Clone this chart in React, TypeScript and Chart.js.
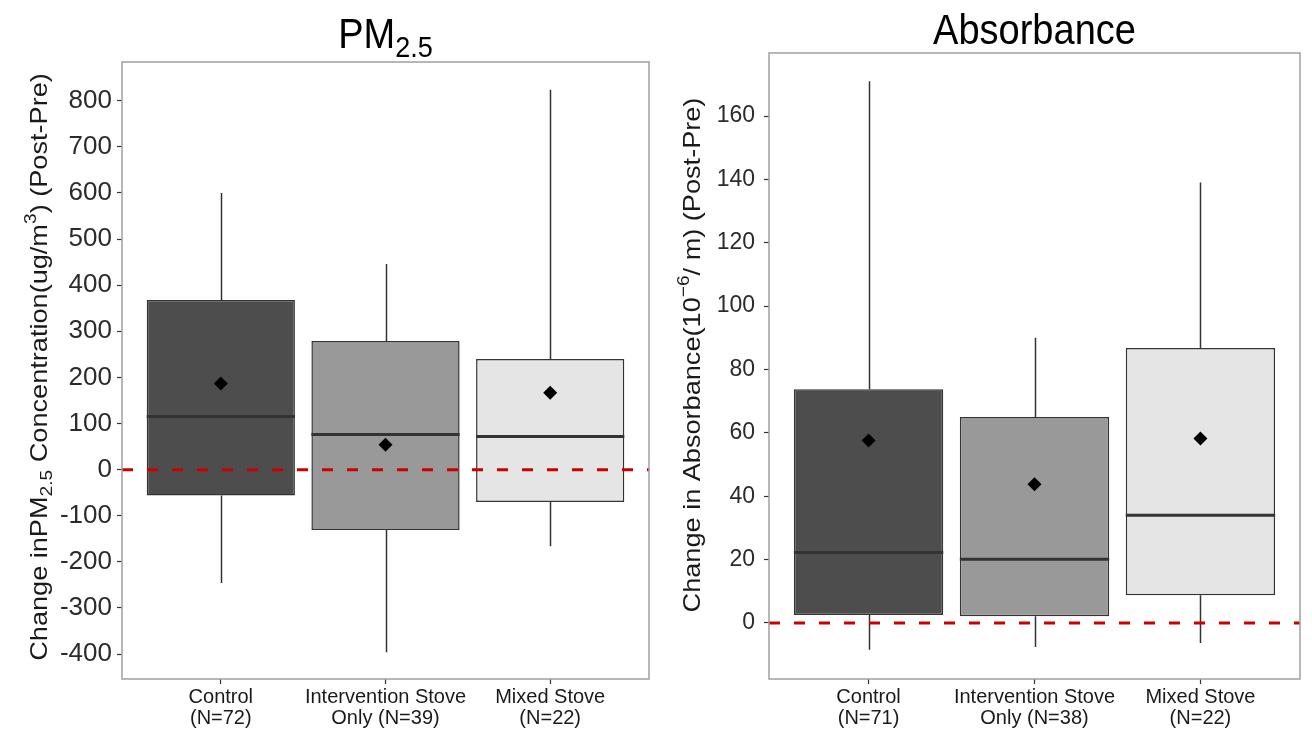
import React, { useEffect, useRef } from "react";
import { Chart, registerables } from "chart.js";

Chart.register(...registerables);

const FONT = "'Liberation Sans', Arial, sans-serif";

// ---------- data ----------
const pmCategories = [["Control", "(N=72)"], ["Intervention Stove", "Only (N=39)"], ["Mixed Stove", "(N=22)"]];
const absCategories = [["Control", "(N=71)"], ["Intervention Stove", "Only (N=38)"], ["Mixed Stove", "(N=22)"]];

const pmMin = [-246, -396, -166];
const pmQ1 = [-56, -131, -70];
const pmMedian = [115, 76, 72];
const pmQ3 = [368, 279, 240];
const pmMax = [600, 446, 824];
const pmMean = [187, 54, 167];

const absMin = [-8.5, -7.6, -6.3];
const absQ1 = [2.5, 2.1, 8.7];
const absMedian = [22.2, 20.1, 34.0];
const absQ3 = [73.8, 65.0, 86.8];
const absMax = [171, 90, 139];
const absMean = [57.6, 43.8, 58.2];

const pmTicks = [-400, -300, -200, -100, 0, 100, 200, 300, 400, 500, 600, 700, 800];
const absTicks = [0, 20, 40, 60, 80, 100, 120, 140, 160];

const boxColors = ["#4d4d4d", "#999999", "#e5e5e5"];

type Seg = { text: string; size: number; dy: number };

const pmTitle: Seg[] = [
  { text: "PM", size: 38, dy: 0 },
  { text: "2.5", size: 27, dy: 8 },
];
const absTitle: Seg[] = [{ text: "Absorbance", size: 38, dy: 0 }];

const pmYTitle: Seg[] = [
  { text: "Change inPM", size: 24, dy: 0 },
  { text: "2.5", size: 17, dy: 5 },
  { text: " Concentration(ug/m", size: 24, dy: 0 },
  { text: "3", size: 17, dy: -11 },
  { text: ") (Post-Pre)", size: 24, dy: 0 },
];
const absYTitle: Seg[] = [
  { text: "Change in Absorbance(10", size: 24, dy: 0 },
  { text: "\u22126", size: 17, dy: -11 },
  { text: "/ m) (Post-Pre)", size: 24, dy: 0 },
];

function drawRich(
  ctx: CanvasRenderingContext2D,
  segs: Seg[],
  cx: number,
  cy: number,
  rotate: boolean,
  stretchAlong: number,
  stretchAcross: number,
  color: string
) {
  ctx.save();
  ctx.translate(cx, cy);
  if (rotate) ctx.rotate(-Math.PI / 2);
  ctx.scale(stretchAlong, stretchAcross);
  ctx.fillStyle = color;
  ctx.textAlign = "left";
  ctx.textBaseline = "alphabetic";
  const widths = segs.map((s) => {
    ctx.font = `${s.size}px ${FONT}`;
    return ctx.measureText(s.text).width;
  });
  const total = widths.reduce((a, b) => a + b, 0);
  let x = -total / 2;
  segs.forEach((s, i) => {
    ctx.font = `${s.size}px ${FONT}`;
    ctx.fillText(s.text, x, s.dy);
    x += widths[i];
  });
  ctx.restore();
}

interface PanelSpec {
  labels: string[][];
  mins: number[];
  q1: number[];
  med: number[];
  q3: number[];
  maxs: number[];
  means: number[];
  ticks: number[];
  yMin: number;
  yMax: number;
  yAxisWidth: number;
  padTop: number;
  padRight: number;
  tickFont: number;
  tickPad: number;
  title: Seg[];
  titleBaseline: number;
  yTitle: Seg[];
  yTitleX: number;
  yTitleY: number;
  yTitleStretch: number;
}

function buildChart(canvas: HTMLCanvasElement, p: PanelSpec) {
  const extras = {
    id: "boxExtras",
    beforeDatasetsDraw(chart: any) {
      const { ctx, scales } = chart;
      const x = scales.x;
      const y = scales.y;
      ctx.save();
      ctx.strokeStyle = "#333333";
      ctx.lineWidth = 1.5;
      p.labels.forEach((_, i) => {
        const px = Math.round(x.getPixelForValue(i + 1)) + 0.5;
        ctx.beginPath();
        ctx.moveTo(px, y.getPixelForValue(p.q3[i]));
        ctx.lineTo(px, y.getPixelForValue(p.maxs[i]));
        ctx.moveTo(px, y.getPixelForValue(p.q1[i]));
        ctx.lineTo(px, y.getPixelForValue(p.mins[i]));
        ctx.stroke();
      });
      ctx.restore();
    },
    afterDatasetDraw(chart: any, args: any) {
      if (args.index !== 0) return;
      const { ctx, scales } = chart;
      const y = scales.y;
      const meta = chart.getDatasetMeta(0);
      ctx.save();
      ctx.strokeStyle = "#333333";
      ctx.lineWidth = 3;
      meta.data.forEach((bar: any, i: number) => {
        const py = y.getPixelForValue(p.med[i]);
        ctx.beginPath();
        ctx.moveTo(bar.x - bar.width / 2, py);
        ctx.lineTo(bar.x + bar.width / 2, py);
        ctx.stroke();
      });
      ctx.restore();
    },
    afterDraw(chart: any) {
      const { ctx, chartArea } = chart;
      ctx.save();
      ctx.strokeStyle = "#a0a0a0";
      ctx.lineWidth = 1.5;
      ctx.strokeRect(
        chartArea.left,
        chartArea.top,
        chartArea.right - chartArea.left,
        chartArea.bottom - chartArea.top
      );
      ctx.restore();
      const cx = (chartArea.left + chartArea.right) / 2;
      drawRich(ctx, p.title, cx, p.titleBaseline, false, 1, 1.12, "#000000");
      drawRich(ctx, p.yTitle, p.yTitleX, p.yTitleY, true, p.yTitleStretch, 1, "#1a1a1a");
    },
  };

  return new Chart(canvas, {
    type: "bar",
    data: {
      datasets: [
        {
          type: "bar",
          data: p.labels.map((_, i) => ({ x: i + 1, y: [p.q1[i], p.q3[i]] })) as any,
          backgroundColor: boxColors,
          borderColor: "#333333",
          borderWidth: 1.5,
          borderSkipped: false,
          barPercentage: 0.9,
          categoryPercentage: 1,
          order: 3,
        } as any,
        {
          type: "line",
          data: [
            { x: 0.4, y: 0 },
            { x: 3.6, y: 0 },
          ],
          borderColor: "#cc0000",
          borderWidth: 3,
          borderDash: [11, 14],
          pointRadius: 0,
          order: 2,
        } as any,
        {
          type: "line",
          data: p.means.map((m, i) => ({ x: i + 1, y: m })),
          showLine: false,
          pointStyle: "rectRot",
          pointRadius: 7,
          pointBackgroundColor: "#000000",
          pointBorderWidth: 0,
          order: 1,
        } as any,
      ],
    },
    options: {
      responsive: false,
      animation: false,
      events: [],
      layout: { padding: { left: 0, right: p.padRight, top: p.padTop, bottom: 0 } },
      plugins: {
        legend: { display: false },
        tooltip: { enabled: false },
        title: { display: false },
      },
      scales: {
        x: {
          type: "linear",
          min: 0.4,
          max: 3.6,
          offset: false,
          border: { display: false },
          grid: {
            offset: false,
            drawOnChartArea: false,
            drawTicks: true,
            tickLength: 5,
            tickColor: "#333333",
            tickWidth: 1.2,
          },
          afterBuildTicks: (s: any) => {
            s.ticks = p.labels.map((_, i) => ({ value: i + 1 }));
          },
          afterFit: (s: any) => {
            s.height = 58;
          },
          ticks: {
            autoSkip: false,
            maxRotation: 0,
            minRotation: 0,
            padding: 3,
            color: "#1a1a1a",
            font: { family: FONT, size: 20, lineHeight: 1.05 },
            callback: (v: any) => p.labels[Math.round(Number(v)) - 1],
          },
        },
        y: {
          type: "linear",
          min: p.yMin,
          max: p.yMax,
          border: { display: false },
          grid: {
            drawOnChartArea: false,
            drawTicks: true,
            tickLength: 5,
            tickColor: "#333333",
            tickWidth: 1.2,
          },
          afterBuildTicks: (s: any) => {
            s.ticks = p.ticks.map((v) => ({ value: v }));
          },
          afterFit: (s: any) => {
            s.width = p.yAxisWidth;
          },
          ticks: {
            padding: p.tickPad,
            color: "#2b2b2b",
            font: { family: FONT, size: p.tickFont },
          },
        },
      },
    } as any,
    plugins: [extras as any],
  });
}

export default function App() {
  const leftRef = useRef<HTMLCanvasElement>(null);
  const rightRef = useRef<HTMLCanvasElement>(null);

  useEffect(() => {
    const left = buildChart(leftRef.current!, {
      labels: pmCategories,
      mins: pmMin,
      q1: pmQ1,
      med: pmMedian,
      q3: pmQ3,
      maxs: pmMax,
      means: pmMean,
      ticks: pmTicks,
      yMin: -454,
      yMax: 884,
      yAxisWidth: 122,
      padTop: 62,
      padRight: 5,
      tickFont: 26,
      tickPad: 5,
      title: pmTitle,
      titleBaseline: 48,
      yTitle: pmYTitle,
      yTitleX: 47,
      yTitleY: 367,
      yTitleStretch: 1.13,
    });
    const right = buildChart(rightRef.current!, {
      labels: absCategories,
      mins: absMin,
      q1: absQ1,
      med: absMedian,
      q3: absQ3,
      maxs: absMax,
      means: absMean,
      ticks: absTicks,
      yMin: -17.7,
      yMax: 179.9,
      yAxisWidth: 113,
      padTop: 53,
      padRight: 12,
      tickFont: 23,
      tickPad: 9,
      title: absTitle,
      titleBaseline: 44,
      yTitle: absYTitle,
      yTitleX: 44,
      yTitleY: 355,
      yTitleStretch: 1.13,
    });
    return () => {
      left.destroy();
      right.destroy();
    };
  }, []);

  return (
    <div
      style={{
        position: "absolute",
        left: 0,
        top: 0,
        width: 1312,
        height: 737,
        background: "#ffffff",
        overflow: "hidden",
      }}
    >
      <canvas
        ref={leftRef}
        width={656}
        height={737}
        style={{ position: "absolute", left: 0, top: 0 }}
      />
      <canvas
        ref={rightRef}
        width={656}
        height={737}
        style={{ position: "absolute", left: 656, top: 0 }}
      />
    </div>
  );
}
